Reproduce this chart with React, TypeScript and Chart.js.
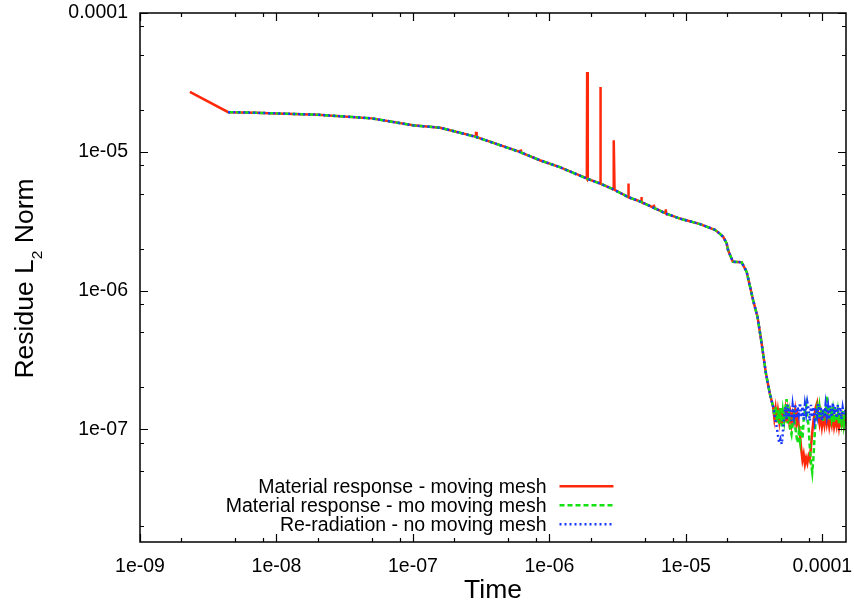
import React, { useEffect, useRef } from "react";
import { Chart, registerables } from "chart.js";

Chart.register(...registerables);

// ---------------- data ----------------
const mainTime = [
  4.43e-9, 7.0e-9, 1.0e-8, 2.0e-8, 5.0e-8, 1.0e-7, 1.58e-7, 2.89e-7, 6.17e-7, 8.5e-7,
  1.19e-6, 1.88e-6, 2.35e-6, 2.95e-6, 3.77e-6, 4.70e-6, 5.82e-6, 7.12e-6, 9.04e-6, 1.27e-5,
  1.63e-5, 1.77e-5, 1.88e-5, 1.99e-5, 2.04e-5, 2.21e-5, 2.56e-5, 2.79e-5, 3.11e-5, 3.35e-5,
  3.59e-5, 3.86e-5, 4.12e-5, 4.36e-5,
];
const mainResidue = [
  1.93e-5, 1.91e-5, 1.89e-5, 1.85e-5, 1.74e-5, 1.55e-5, 1.49e-5, 1.28e-5, 9.9e-6, 8.69e-6,
  7.75e-6, 6.4e-6, 5.9e-6, 5.35e-6, 4.72e-6, 4.35e-6, 3.94e-6, 3.59e-6, 3.30e-6, 3.01e-6,
  2.74e-6, 2.57e-6, 2.43e-6, 2.18e-6, 1.95e-6, 1.61e-6, 1.60e-6, 1.36e-6, 8.5e-7, 6.45e-7,
  4.15e-7, 2.52e-7, 1.81e-7, 1.45e-7,
];

const redHeadTime = [2.32e-9];
const redHeadResidue = [2.70e-5];

const redSpikeTime = [
  2.87e-7, 2.90e-7, 2.93e-7,
  6.14e-7, 6.18e-7, 6.22e-7,
  1.87e-6, 1.89e-6, 1.91e-6,
  2.34e-6, 2.36e-6, 2.38e-6,
  2.94e-6, 2.97e-6, 3.00e-6,
  3.74e-6, 3.78e-6, 3.82e-6,
  4.66e-6, 4.71e-6, 4.76e-6,
  5.78e-6, 5.83e-6, 5.88e-6,
  7.08e-6, 7.13e-6, 7.18e-6,
];
const redSpikeResidue = [
  1.285e-5, 1.39e-5, 1.275e-5,
  9.93e-6, 1.04e-5, 9.87e-6,
  6.45e-6, 3.76e-5, 6.38e-6,
  5.92e-6, 2.93e-5, 5.88e-6,
  5.36e-6, 1.21e-5, 5.32e-6,
  4.74e-6, 5.9e-6, 4.70e-6,
  4.37e-6, 4.72e-6, 4.33e-6,
  3.96e-6, 4.15e-6, 3.93e-6,
  3.61e-6, 3.85e-6, 3.58e-6,
];

const tailTime = [
  4.45e-5, 4.54e-5, 4.64e-5, 4.73e-5, 4.83e-5, 4.93e-5, 5.04e-5, 5.14e-5, 5.25e-5, 5.36e-5,
  5.47e-5, 5.58e-5, 5.70e-5, 5.82e-5, 5.94e-5, 6.06e-5, 6.19e-5, 6.32e-5, 6.45e-5, 6.58e-5,
  6.72e-5, 6.86e-5, 7.00e-5, 7.15e-5, 7.29e-5, 7.45e-5, 7.60e-5, 7.76e-5, 7.92e-5, 8.09e-5,
  8.25e-5, 8.43e-5, 8.60e-5, 8.78e-5, 8.96e-5, 9.15e-5, 9.34e-5, 9.53e-5, 9.73e-5, 9.93e-5,
  1.014e-4, 1.035e-4, 1.056e-4, 1.078e-4, 1.101e-4, 1.124e-4, 1.147e-4, 1.171e-4, 1.195e-4, 1.220e-4,
  1.245e-4, 1.271e-4, 1.298e-4, 1.325e-4, 1.352e-4, 1.380e-4, 1.409e-4, 1.438e-4, 1.468e-4, 1.490e-4,
];
const redTail = [
  1.20e-7, 1.40e-7, 1.12e-7, 1.35e-7, 1.15e-7, 1.42e-7, 1.10e-7, 1.30e-7, 1.18e-7, 1.38e-7,
  1.12e-7, 1.35e-7, 1.15e-7, 1.30e-7, 1.10e-7, 1.28e-7, 1.15e-7, 1.35e-7, 1.10e-7, 1.25e-7,
  1.05e-7, 0.90e-7, 0.72e-7, 0.60e-7, 0.66e-7, 0.56e-7, 0.62e-7, 0.57e-7, 0.64e-7, 0.60e-7,
  0.75e-7, 0.95e-7, 1.15e-7, 1.30e-7, 1.45e-7, 1.55e-7, 1.25e-7, 1.10e-7, 1.28e-7, 1.05e-7,
  1.22e-7, 1.08e-7, 1.30e-7, 1.10e-7, 1.25e-7, 1.05e-7, 1.20e-7, 1.08e-7, 1.28e-7, 1.05e-7,
  1.18e-7, 1.06e-7, 1.25e-7, 1.04e-7, 1.20e-7, 1.08e-7, 1.22e-7, 1.05e-7, 1.15e-7, 1.10e-7,
];
const greenTail = [
  1.25e-7, 1.45e-7, 1.12e-7, 1.38e-7, 1.10e-7, 1.42e-7, 1.05e-7, 1.35e-7, 1.15e-7, 1.40e-7,
  1.65e-7, 1.10e-7, 1.30e-7, 1.00e-7, 0.92e-7, 1.10e-7, 1.25e-7, 1.05e-7, 0.90e-7, 0.80e-7,
  0.95e-7, 0.82e-7, 1.05e-7, 0.85e-7, 1.15e-7, 1.35e-7, 1.50e-7, 1.25e-7, 1.05e-7, 0.75e-7,
  0.58e-7, 0.49e-7, 0.62e-7, 0.90e-7, 1.20e-7, 1.40e-7, 1.18e-7, 1.45e-7, 1.22e-7, 1.40e-7,
  1.15e-7, 1.42e-7, 1.30e-7, 1.74e-7, 1.35e-7, 1.15e-7, 1.45e-7, 1.20e-7, 1.38e-7, 1.12e-7,
  1.40e-7, 1.15e-7, 1.35e-7, 1.10e-7, 1.30e-7, 1.12e-7, 1.35e-7, 1.08e-7, 1.25e-7, 1.10e-7,
];
const blueTail = [
  1.30e-7, 1.15e-7, 1.02e-7, 0.90e-7, 0.80e-7, 0.85e-7, 0.78e-7, 0.95e-7, 1.25e-7, 1.45e-7,
  1.18e-7, 1.50e-7, 1.22e-7, 1.42e-7, 1.15e-7, 1.48e-7, 1.25e-7, 1.52e-7, 1.20e-7, 1.45e-7,
  1.28e-7, 1.55e-7, 1.22e-7, 1.46e-7, 1.18e-7, 1.50e-7, 1.30e-7, 1.56e-7, 1.40e-7, 1.15e-7,
  1.50e-7, 1.22e-7, 1.45e-7, 1.18e-7, 1.42e-7, 1.25e-7, 1.52e-7, 1.20e-7, 1.46e-7, 1.15e-7,
  1.40e-7, 1.22e-7, 1.50e-7, 1.25e-7, 1.45e-7, 1.18e-7, 1.48e-7, 1.22e-7, 1.55e-7, 1.28e-7,
  1.45e-7, 1.20e-7, 1.50e-7, 1.24e-7, 1.44e-7, 1.18e-7, 1.42e-7, 1.25e-7, 1.38e-7, 1.30e-7,
];

const seriesLabels = [
  "Material response - moving mesh",
  "Material response - mo moving mesh",
  "Re-radiation - no moving mesh",
];

const xMajorTicks = [1e-9, 1e-8, 1e-7, 1e-6, 1e-5, 1e-4];
const xTickLabels = ["1e-09", "1e-08", "1e-07", "1e-06", "1e-05", "0.0001"];
const xMinorTicks = [
  2e-9, 5e-9, 8e-9, 2e-8, 5e-8, 8e-8, 2e-7, 5e-7, 8e-7,
  2e-6, 5e-6, 8e-6, 2e-5, 5e-5, 8e-5,
];
const yMajorTicks = [1e-7, 1e-6, 1e-5, 1e-4];
const yTickLabels = ["1e-07", "1e-06", "1e-05", "0.0001"];
const yMinorTicks = [
  2e-8, 5e-8, 8e-8, 2e-7, 5e-7, 8e-7, 2e-6, 5e-6, 8e-6, 2e-5, 5e-5, 8e-5,
];

const X_MIN = 1e-9;
const X_MAX = 1.49e-4;
const Y_MIN = 1.54e-8;
const Y_MAX = 1e-4;

// ---------------- styles ----------------
const FONT = "'Liberation Sans', Arial, Helvetica, sans-serif";
const RED = "rgb(255,40,10)";
const GREEN = "rgb(20,225,20)";
const BLUE = "rgb(25,55,255)";
const COLORS = [RED, GREEN, BLUE];
const DASHES: number[][] = [[], [5, 3], [2, 3]];

const pts = (xs: number[], ys: number[]) => xs.map((x, i) => ({ x, y: ys[i] }));
const byX = (a: { x: number }, b: { x: number }) => a.x - b.x;

const framePlugin = {
  id: "gnuplotFrame",
  afterDatasetsDraw(chart: any) {
    const { ctx, chartArea: ca, scales } = chart;
    const xs = scales.x;
    const ys = scales.y;
    ctx.save();
    ctx.strokeStyle = "#000";
    ctx.lineWidth = 1.5;
    ctx.setLineDash([]);
    ctx.strokeRect(ca.left, ca.top, ca.right - ca.left, ca.bottom - ca.top);
    ctx.lineWidth = 1.2;
    const xTick = (v: number, len: number) => {
      const p = Math.round(xs.getPixelForValue(v)) + 0.5;
      ctx.beginPath();
      ctx.moveTo(p, ca.bottom);
      ctx.lineTo(p, ca.bottom - len);
      ctx.moveTo(p, ca.top);
      ctx.lineTo(p, ca.top + len);
      ctx.stroke();
    };
    const yTick = (v: number, len: number) => {
      const p = Math.round(ys.getPixelForValue(v)) + 0.5;
      ctx.beginPath();
      ctx.moveTo(ca.left, p);
      ctx.lineTo(ca.left + len, p);
      ctx.moveTo(ca.right, p);
      ctx.lineTo(ca.right - len, p);
      ctx.stroke();
    };
    xMajorTicks.forEach((v) => xTick(v, 8));
    xMinorTicks.forEach((v) => xTick(v, 4));
    yMajorTicks.forEach((v) => yTick(v, 8));
    yMinorTicks.forEach((v) => yTick(v, 4));

    // legend
    ctx.font = `19.5px ${FONT}`;
    ctx.fillStyle = "#000";
    ctx.textAlign = "right";
    ctx.textBaseline = "alphabetic";
    const baselines = [492.7, 511.8, 530.8];
    seriesLabels.forEach((lab, i) => {
      ctx.fillText(lab, 546.5, baselines[i]);
      ctx.save();
      ctx.strokeStyle = COLORS[i];
      ctx.lineWidth = 2.5;
      ctx.setLineDash(DASHES[i]);
      ctx.beginPath();
      ctx.moveTo(559.5, baselines[i] - 6.5);
      ctx.lineTo(613.5, baselines[i] - 6.5);
      ctx.stroke();
      ctx.restore();
    });

    // x title
    ctx.font = `26.5px ${FONT}`;
    ctx.textAlign = "center";
    ctx.fillText("Time", (ca.left + ca.right) / 2, 598);

    // y title with subscript
    ctx.save();
    ctx.translate(33, 278.5);
    ctx.rotate(-Math.PI / 2);
    ctx.textAlign = "left";
    const big = `26.5px ${FONT}`;
    const small = `15.5px ${FONT}`;
    ctx.font = big;
    const w1 = ctx.measureText("Residue L").width;
    const w3 = ctx.measureText(" Norm").width;
    ctx.font = small;
    const w2 = ctx.measureText("2").width;
    const total = w1 + w2 + w3;
    let x0 = -total / 2;
    ctx.font = big;
    ctx.fillText("Residue L", x0, 0);
    x0 += w1;
    ctx.font = small;
    ctx.fillText("2", x0, 8.5);
    x0 += w2;
    ctx.font = big;
    ctx.fillText(" Norm", x0, 0);
    ctx.restore();

    ctx.restore();
  },
};

export default function App() {
  const canvasRef = useRef<HTMLCanvasElement | null>(null);

  useEffect(() => {
    const canvas = canvasRef.current;
    if (!canvas) return;

    const redData = [
      ...pts(redHeadTime, redHeadResidue),
      ...pts(mainTime, mainResidue),
      ...pts(redSpikeTime, redSpikeResidue),
      ...pts(tailTime, redTail),
    ].sort(byX);
    const greenData = [...pts(mainTime, mainResidue), ...pts(tailTime, greenTail)].sort(byX);
    const blueData = [...pts(mainTime, mainResidue), ...pts(tailTime, blueTail)].sort(byX);

    const datasets = [redData, greenData, blueData].map((data, i) => ({
      label: seriesLabels[i],
      data,
      borderColor: COLORS[i],
      backgroundColor: COLORS[i],
      borderWidth: 2.5,
      borderDash: DASHES[i],
      pointRadius: 0,
      tension: 0,
      fill: false,
      order: 3 - i,
    }));

    const chart = new Chart(canvas, {
      type: "line",
      data: { datasets },
      options: {
        animation: false,
        responsive: false,
        maintainAspectRatio: false,
        layout: { padding: { top: 13, right: 8, left: 0, bottom: 0 } },
        plugins: {
          legend: { display: false },
          tooltip: { enabled: false },
        },
        scales: {
          x: {
            type: "logarithmic",
            position: "bottom",
            min: X_MIN,
            max: X_MAX,
            grid: { display: false, drawTicks: false },
            border: { display: false },
            ticks: {
              autoSkip: false,
              maxRotation: 0,
              minRotation: 0,
              padding: 13,
              color: "#000",
              font: { family: FONT, size: 19.5 },
              callback: (_v: any, i: number) => xTickLabels[i],
            },
            afterBuildTicks: (s: any) => {
              s.ticks = xMajorTicks.map((v) => ({ value: v }));
            },
            afterFit: (s: any) => {
              s.height = 64;
              s.paddingLeft = 0;
              s.paddingRight = 0;
            },
          },
          y: {
            type: "logarithmic",
            position: "left",
            min: Y_MIN,
            max: Y_MAX,
            grid: { display: false, drawTicks: false },
            border: { display: false },
            ticks: {
              autoSkip: false,
              padding: 12,
              color: "#000",
              font: { family: FONT, size: 19.5 },
              callback: (_v: any, i: number) => yTickLabels[i],
            },
            afterBuildTicks: (s: any) => {
              s.ticks = yMajorTicks.map((v) => ({ value: v }));
            },
            afterFit: (s: any) => {
              s.width = 140;
              s.paddingTop = 0;
              s.paddingBottom = 0;
            },
          },
        },
      },
      plugins: [framePlugin],
    } as any);

    return () => chart.destroy();
  }, []);

  return (
    <div style={{ position: "absolute", left: 0, top: 0, width: 854, height: 606, background: "#fff" }}>
      <canvas ref={canvasRef} width={854} height={606} style={{ display: "block" }} />
    </div>
  );
}
